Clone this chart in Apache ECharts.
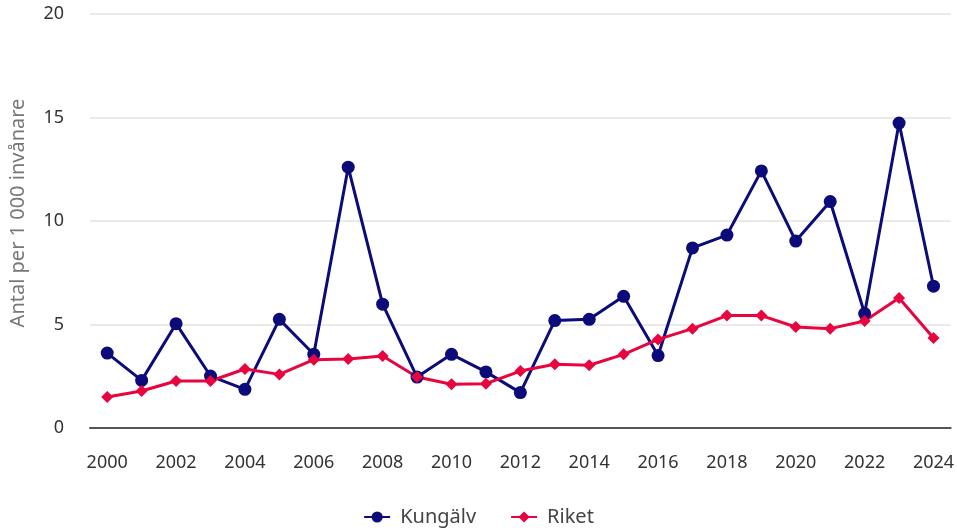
<!DOCTYPE html>
<html><head><meta charset="utf-8">
<script src="https://cdn.jsdelivr.net/npm/echarts@6/dist/echarts.min.js"></script>
<style>html,body{margin:0;padding:0;background:#fff}#c{width:957px;height:530px}</style>
</head><body><div id="c"></div>
<script>
const years = ['2000','2001','2002','2003','2004','2005','2006','2007','2008','2009','2010','2011','2012','2013','2014','2015','2016','2017','2018','2019','2020','2021','2022','2023','2024'];
const kungalv = [3.62,2.30,5.04,2.51,1.87,5.25,3.56,12.6,5.98,2.46,3.56,2.71,1.71,5.19,5.25,6.36,3.50,8.70,9.32,12.42,9.03,10.94,5.53,14.73,6.85];
const riket = [1.50,1.79,2.27,2.27,2.85,2.59,3.30,3.33,3.48,2.46,2.11,2.14,2.75,3.08,3.03,3.56,4.28,4.80,5.43,5.43,4.88,4.80,5.17,6.28,4.35];
const yTicks = [0,5,10,15,20];
const font = '"Noto Sans", sans-serif';
const chart = echarts.init(document.getElementById('c'), null, {renderer:'canvas'});
chart.setOption({
  animation:false,
  textStyle:{fontFamily:font},
  grid:{left:88,right:4,top:14,bottom:102,containLabel:false},
  legend:{bottom:-2,left:'center',itemGap:34,itemWidth:26,itemHeight:14,
    textStyle:{fontSize:20,color:'#444',fontFamily:font,padding:[0,0,0,5]},
    data:['Kungälv','Riket']},
  xAxis:{type:'category',data:years,boundaryGap:true,
    axisLine:{lineStyle:{color:'#555',width:2}},axisTick:{show:false},
    axisLabel:{interval:1,fontSize:18,color:'#333',margin:26,fontFamily:font}},
  yAxis:{type:'value',min:yTicks[0],max:yTicks[yTicks.length-1],interval:5,
    name:'Antal per 1 000 invånare',nameLocation:'middle',nameGap:62,nameRotate:90,
    nameTextStyle:{fontSize:20,color:'#777',fontFamily:font,padding:[0,0,0,16]},
    axisLine:{show:false},axisTick:{show:false},
    axisLabel:{fontSize:18,color:'#333',margin:26,fontFamily:font},
    splitLine:{lineStyle:{color:'#e3e3e3',width:1.5}}},
  series:[
    {name:'Kungälv',type:'line',data:kungalv,symbol:'circle',symbolSize:13,
     lineStyle:{color:'#0b0b7a',width:3},itemStyle:{color:'#0b0b7a'}},
    {name:'Riket',type:'line',data:riket,symbol:'diamond',symbolSize:12,
     lineStyle:{color:'#e8043f',width:3},itemStyle:{color:'#e8043f'}}
  ]
});
</script></body></html>
